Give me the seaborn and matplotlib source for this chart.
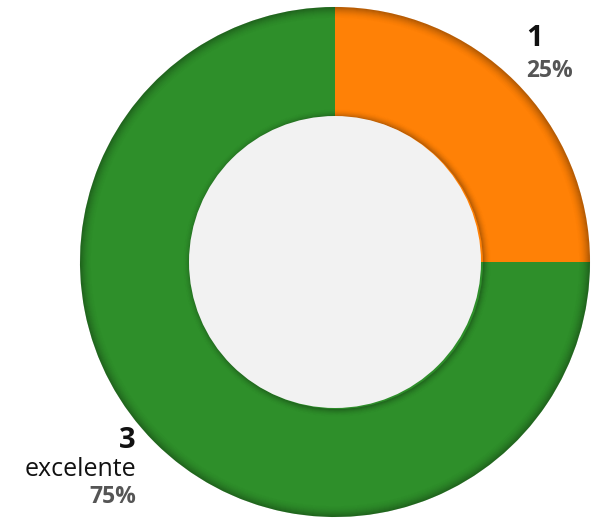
import matplotlib.pyplot as plt
import matplotlib.patches as mpatches
import seaborn as sns

sns.set_theme(style="white")
plt.rcParams['font.family'] = ['Open Sans', 'DejaVu Sans']

# data
labels = ['1', '3']
names = ['', 'excelente']
values = [25, 75]
colors = ['#ff8106', '#2e8f2a']

W, H = 592, 519
cx, cy = 335, H - 262
R_out, R_in = 255, 146

fig = plt.figure(figsize=(W / 100, H / 100), dpi=100)
ax = fig.add_axes([0, 0, 1, 1])

ax.pie(values, colors=colors, startangle=90, counterclock=False,
       center=(cx, cy), radius=R_out, frame=True,
       wedgeprops=dict(linewidth=0))
ax.set_xlim(0, W)
ax.set_ylim(0, H)
ax.set_aspect('equal')
ax.axis('off')

# inset shadow along the outer edge
for k in range(12):
    a = 0.28 * (1 - k / 12) ** 2
    ax.add_patch(mpatches.Circle((cx, cy), R_out - k - 0.5, fill=False,
                                 edgecolor='black', lw=0.8, alpha=a))
# shadow of the hole on the ring
for k in range(8):
    a = 0.25 * (1 - k / 8) ** 2
    ax.add_patch(mpatches.Circle((cx + 2, cy - 1), R_in + k + 0.5, fill=False,
                                 edgecolor='black', lw=0.8, alpha=a))
ax.add_patch(mpatches.Circle((cx, cy), R_in, facecolor='#f2f2f2', edgecolor='none'))

pct_font = dict(fontsize=16.5, fontweight='bold', color='#555555')

# labels
ax.text(526, H - 38, labels[0], ha='left', va='center', fontsize=21,
        fontweight='bold', color='#111111')
ax.text(526, H - 71, f'{values[0]}%', ha='left', va='center', **pct_font)

ax.text(136, H - 441, labels[1], ha='right', va='center', fontsize=21,
        fontweight='bold', color='#111111')
ax.text(136, H - 470, names[1], ha='right', va='center', fontsize=18,
        color='#111111')
ax.text(136, H - 497, f'{values[1]}%', ha='right', va='center', **pct_font)

fig.savefig('out.png', dpi=100, facecolor='white')
